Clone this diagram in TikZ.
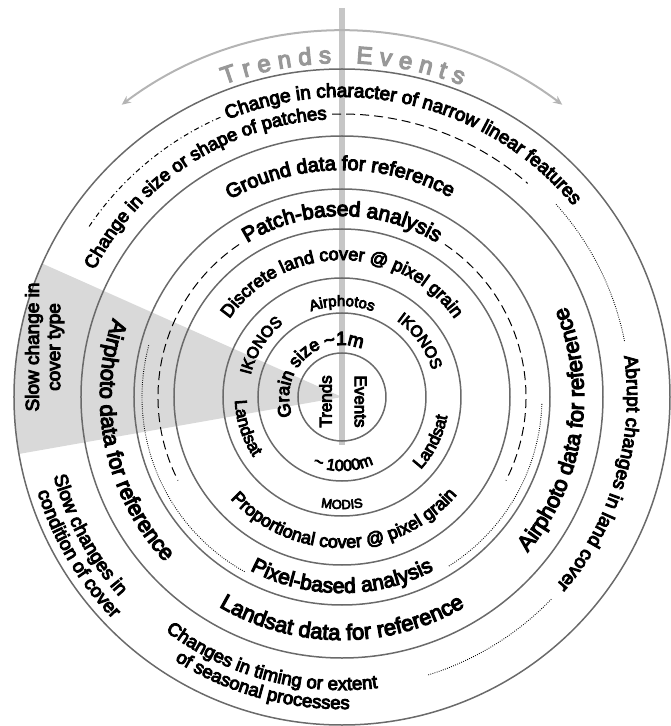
\documentclass[tikz,border=0pt]{standalone}
\usepackage{fontspec}
\setmainfont{Liberation Sans}
\newfontfamily\hv{Liberation Sans}[FakeBold=5]
\usetikzlibrary{decorations.text,arrows.meta}
\definecolor{ringcol}{HTML}{6A6A6A}
\definecolor{wedgecol}{HTML}{D9D9D9}
\definecolor{barcol}{HTML}{C6C6C6}
\definecolor{titlecol}{HTML}{989898}
\definecolor{arrowcol}{HTML}{B4B4B4}
\newcommand\cwtext[4]{%
  \path[decorate,decoration={text along path,text align=center,
    text={|\hv\fontsize{#3}{#3}\selectfont|#4}}]
    ({#2+89}:#1) arc[start angle={#2+89},end angle={#2-89},radius=#1];}
\newcommand\ccwtext[4]{%
  \path[decorate,decoration={text along path,text align=center,
    text={|\hv\fontsize{#3}{#3}\selectfont|#4}}]
    ({#2-89}:#1) arc[start angle={#2-89},end angle={#2+89},radius=#1];}
\tikzset{
  ring/.style={ringcol,line width=1.5pt},
  dashline/.style={black,line width=1pt,dash pattern=on 9pt off 5pt},
  dotline/.style={black,line width=0.9pt,dash pattern=on 0.8pt off 1.4pt},
  dashdotline/.style={black,line width=1pt,dash pattern=on 5pt off 3pt on 1pt off 3pt},
}
\begin{document}
\begin{tikzpicture}[x=1pt,y=1pt]
\useasboundingbox (-342,-329) rectangle (328,397);
% shaded wedge
\fill[wedgecol] (0,0) -- (156:328) arc[start angle=156,end angle=190,radius=328] -- cycle;
% vertical divider
\draw[barcol,line width=6pt] (0,389) -- (0,-48);
% rings
\foreach \r in {44,84,119,168,208,261,328} \draw[ring] (0,0) circle[radius=\r];
% bracket lines
\draw[dashline] (124:184) arc[start angle=124,end angle=207,radius=184];
\draw[dashline] (56:184) arc[start angle=56,end angle=-27,radius=184];
\draw[dotline] (165:200) arc[start angle=165,end angle=241,radius=200];
\draw[dotline] (-2:200) arc[start angle=-2,end angle=-58,radius=200];
\draw[dashline] (92:283) arc[start angle=92,end angle=49,radius=283];
\draw[dashdotline] (146:305) arc[start angle=146,end angle=113,radius=305];
\draw[dotline] (42:288) arc[start angle=42,end angle=11,radius=288];
\draw[dotline] (-44:291) arc[start angle=-44,end angle=-73,radius=291];
% title arrow
\draw[arrowcol,line width=2pt,{Stealth[length=9pt,width=8pt]}-{Stealth[length=9pt,width=8pt]}]
  (127:366) arc[start angle=127,end angle=53,radius=366];
% title text
\path[decorate,decoration={text along path,text align=center,
  text={|\hv\color{titlecol}\fontsize{24}{24}\selectfont|{T\kern7pt}{r\kern7pt}{e\kern7pt}{n\kern7pt}{d\kern7pt}s}}]
  (190.25:334) arc[start angle=190.25,end angle=12.25,radius=334];
\path[decorate,decoration={text along path,text align=center,
  text={|\hv\color{titlecol}\fontsize{24}{24}\selectfont|{E\kern7pt}{v\kern7pt}{e\kern7pt}{n\kern7pt}{t\kern7pt}s}}]
  (167.3:334) arc[start angle=167.3,end angle=-10.7,radius=334];
% centre
\node[rotate=90,font=\hv\fontsize{17}{17}\selectfont] (trends) at (-16.5,-4.5) {Trends};
\node[rotate=-90,font=\hv\fontsize{17}{17}\selectfont] (events) at (18.5,-4.5) {Events};
% ring 2
\cwtext{52}{88}{19}{{\textasciitilde}1m}
\cwtext{53}{157}{18}{Grain size}
\ccwtext{74}{271}{16}{{\textasciitilde} 1000m}
% ring 3
\cwtext{91}{90}{15}{Airphotos}
\cwtext{94}{147.5}{16}{IKONOS}
\cwtext{94}{35.5}{16}{IKONOS}
\ccwtext{107}{198}{17}{Landsat}
\ccwtext{107}{333.5}{17}{Landsat}
\ccwtext{112}{270}{13}{MODIS}
% ring 4
\cwtext{137}{90}{18}{Discrete land cover @ pixel grain}
\ccwtext{151}{271}{18}{Proportional cover @ pixel grain}
% ring 5
\cwtext{181}{90}{21}{Patch-based analysis}
\ccwtext{196}{270}{21}{Pixel-based analysis}
% ring 6
\cwtext{227}{90.5}{20}{Ground data for reference}
\ccwtext{242}{192}{22}{Airphoto data for reference}
\ccwtext{242}{351}{22}{Airphoto data for reference}
\ccwtext{243}{270}{22}{Landsat data for reference}
% ring 7
\cwtext{300}{76}{19}{Change in character of narrow linear features}
\cwtext{278}{123}{18.5}{Change in size or shape of patches}
\cwtext{285}{343.5}{19}{Abrupt changes in land cover}
\ccwtext{293}{255}{18.5}{Changes in timing or extent}
\ccwtext{312}{254.5}{18.5}{of seasonal processes}
\ccwtext{299}{208.6}{19}{Slow changes in}
\ccwtext{319}{210.7}{19}{condition of cover}
\node[rotate=90,font=\hv\fontsize{19}{19}\selectfont] (slow1) at (-308,50) {Slow change in};
\node[rotate=90,font=\hv\fontsize{19}{19}\selectfont] (slow2) at (-286,50) {cover type};
\end{tikzpicture}
\end{document}
